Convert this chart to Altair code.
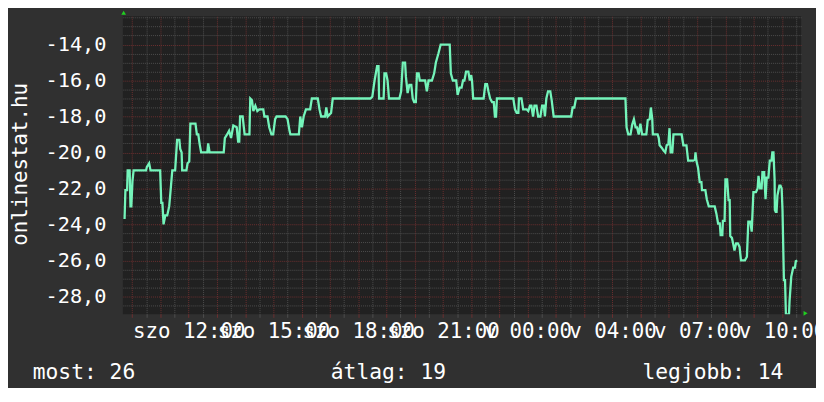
import json
import pandas as pd
import altair as alt

# ---- data (real hours since Saturday 00:00, temperature-like values) ----
hours = [9.73, 9.76, 9.82, 9.84, 9.91, 9.94, 9.97, 10.01, 10.05, 10.49, 10.52, 10.60, 10.65, 10.99,
         11.03, 11.07, 11.11, 11.17, 11.24, 11.31, 11.36, 11.42, 11.52, 11.59, 11.67, 11.70, 11.75,
         11.77, 11.92, 11.96, 12.02, 12.06, 12.24, 12.29, 12.34, 12.39, 12.44, 12.66, 12.69, 12.74,
         13.24, 13.28, 13.36, 13.43, 13.50, 13.58, 13.70, 13.75, 13.79, 13.82, 13.91, 13.98, 14.15,
         14.18, 14.24, 14.29, 14.36, 14.43, 14.50, 14.64, 14.68, 14.79, 14.85, 14.93, 14.99, 15.06,
         15.11, 15.43, 15.50, 15.57, 15.60, 15.90, 15.95, 16.01, 16.07, 16.15, 16.30, 16.36, 16.57,
         16.63, 16.69, 16.83, 16.87, 16.92, 17.04, 17.10, 18.43, 18.50, 18.58, 18.67, 18.72, 18.74,
         18.90, 18.93, 18.99, 19.04, 19.09, 19.46, 19.52, 19.58, 19.66, 19.69, 19.75, 19.81, 19.88,
         19.93, 19.98, 20.04, 20.08, 20.14, 20.18, 20.37, 20.43, 20.49, 20.61, 20.69, 20.75, 20.84,
         20.92, 21.24, 21.28, 21.35, 21.47, 21.52, 21.59, 21.66, 21.71, 21.76, 21.82, 21.90, 21.95,
         22.00, 22.03, 22.07, 22.44, 22.50, 22.56, 22.61, 22.67, 22.74, 22.80, 22.84, 22.88, 22.91,
         23.49, 23.55, 23.61, 23.67, 23.69, 23.78, 23.84, 23.96, 24.02, 24.08, 24.13, 24.19, 24.24,
         24.31, 24.37, 24.45, 24.51, 24.57, 24.61, 24.66, 24.72, 24.80, 24.85, 24.92, 25.54, 25.59,
         25.65, 25.71, 27.46, 27.50, 27.56, 27.64, 27.70, 27.76, 27.82, 27.87, 27.93, 27.99, 28.05,
         28.20, 28.25, 28.32, 28.36, 28.41, 28.43, 28.60, 28.64, 28.67, 28.75, 28.81, 28.87, 28.92,
         28.98, 29.02, 29.06, 29.12, 29.16, 29.45, 29.51, 29.62, 29.68, 29.86, 29.92, 29.94, 29.97,
         30.03, 30.09, 30.15, 30.17, 30.29, 30.34, 30.41, 30.62, 30.68, 30.74, 30.80, 30.83, 30.89,
         30.91, 30.97, 31.00, 31.06, 31.11, 31.15, 31.17, 31.23, 31.27, 31.32, 31.38, 31.44, 31.50,
         31.55, 31.69, 31.76, 31.81, 31.88, 31.93, 31.99, 32.08, 32.14, 32.17, 32.23, 32.28, 32.31,
         32.37, 32.42, 32.46, 32.52, 32.57, 32.63, 32.66, 32.70, 32.74, 32.75, 32.78, 32.81, 32.84,
         32.91, 32.95, 32.99, 33.02, 33.07, 33.11, 33.14, 33.25, 33.27, 33.33, 33.40, 33.46, 33.49,
         33.54]
values = [-23.7, -22.1, -22.1, -21.0, -21.0, -23.0, -23.0, -21.6, -21.0, -21.0, -20.8, -20.6, -21.0, -21.0,
          -22.8, -22.8, -24.0, -23.5, -23.5, -23.0, -22.1, -21.0, -21.0, -19.3, -19.3, -19.8, -20.0,
          -21.0, -21.0, -20.6, -20.5, -18.4, -18.4, -19.0, -19.0, -19.55, -20.0, -20.0, -19.5, -20.0,
          -20.0, -19.2, -19.0, -18.8, -19.2, -18.5, -18.6, -19.4, -19.4, -18.0, -18.0, -19.0, -19.0,
          -17.0, -17.1, -17.7, -17.4, -17.7, -17.6, -17.6, -18.0, -18.0, -18.6, -19.0, -19.0, -18.15,
          -18.0, -18.0, -18.15, -18.8, -19.0, -19.0, -18.0, -18.6, -18.0, -17.6, -17.6, -17.0, -17.0,
          -17.6, -18.0, -18.0, -17.5, -18.0, -17.8, -17.0, -17.0, -16.9, -16.0, -15.2, -15.2, -17.0,
          -17.0, -15.6, -15.6, -16.0, -17.0, -17.0, -16.6, -15.0, -15.0, -15.8, -16.7, -16.25, -16.25,
          -17.0, -17.2, -17.2, -15.6, -15.6, -16.0, -16.0, -16.6, -16.0, -16.0, -15.6, -15.0, -14.5,
          -14.0, -14.0, -15.6, -16.0, -16.0, -16.8, -16.4, -16.4, -16.0, -16.0, -15.5, -15.5, -16.0,
          -15.7, -16.0, -17.0, -17.0, -16.2, -16.2, -16.6, -17.0, -17.2, -17.2, -18.0, -18.0, -17.0,
          -17.0, -17.6, -17.8, -17.8, -17.0, -17.0, -17.6, -17.6, -17.7, -17.4, -17.4, -18.0, -17.4,
          -17.4, -18.0, -18.0, -17.4, -17.4, -18.0, -17.0, -16.6, -16.6, -17.1, -18.0, -18.0, -17.5,
          -17.5, -17.0, -17.0, -18.6, -19.0, -19.0, -18.45, -18.15, -18.6, -18.6, -19.0, -18.4, -19.0,
          -19.0, -18.2, -18.15, -17.5, -18.15, -19.0, -19.0, -19.2, -19.6, -19.75, -19.9, -20.0, -19.6,
          -19.55, -18.65, -20.0, -20.0, -19.0, -19.0, -19.6, -19.6, -20.45, -20.45, -20.4, -20.0, -20.45,
          -20.85, -21.65, -21.65, -22.1, -22.1, -22.6, -23.0, -23.0, -23.4, -23.95, -23.95, -24.6, -24.6,
          -23.8, -23.8, -21.5, -21.5, -22.65, -22.65, -24.65, -24.75, -25.05, -25.45, -25.05, -25.05, -25.25,
          -26.0, -26.0, -25.8, -23.85, -23.85, -24.4, -22.2, -22.2, -22.0, -21.3, -22.0, -22.0, -21.1,
          -21.1, -22.6, -21.4, -21.4, -20.45, -20.45, -20.0, -20.0, -21.5, -23.2, -23.3, -23.3, -22.4,
          -21.85, -21.85, -22.0, -23.2, -27.1, -27.1, -29.0, -29.0, -28.25, -26.9, -26.4, -26.4, -26.05,
          -26.0]

x_domain = [9.67, 33.68]
y_domain = [-29.0, -12.43]

x_tick_hours = [12, 15, 18, 21, 24, 27, 30, 33]
x_tick_labels = ["szo 12:00", "szo 15:00", "szo 18:00", "szo 21:00",
                 "v 00:00", "v 04:00", "v 07:00", "v 10:00"]
x_major = list(range(10, 34))
x_minor = [k / 2 for k in range(21, 68, 2)]
y_major = [-28, -26, -24, -22, -20, -18, -16, -14]
y_minor = [k / 2 for k in range(-57, -24) if k % 4 != 0]

y_title = "onlinestat.hu"
stat_names = ["most", "átlag", "legjobb"]
stat_values = [26, 19, 14]

# ---- styling ----
FONT = "DejaVu Sans Mono"
BG = "#303030"
PLOT = "#212121"
GRAY = "#4e4e4e"
RED = "#6c3030"
LINE = "#74f4ba"
ARROW = "#20d020"
TXT = "#ffffff"

df = pd.DataFrame({"h": hours, "v": values})
xs = alt.Scale(domain=x_domain, nice=False, zero=False)
ys = alt.Scale(domain=y_domain, nice=False, zero=False)

grid_minor = alt.Chart(df).mark_line(opacity=0).encode(
    x=alt.X("h:Q", scale=xs, axis=alt.Axis(
        orient="bottom", values=x_minor, grid=True, gridColor=GRAY, gridDash=[1, 1],
        labels=False, ticks=True, tickColor=GRAY, tickSize=3, domain=False, title=None)),
    y=alt.Y("v:Q", scale=ys, axis=alt.Axis(
        orient="left", values=y_minor, grid=True, gridColor=GRAY, gridDash=[1, 1],
        labels=False, ticks=False, domain=False, title=None)),
)

grid_major = alt.Chart(df).mark_line(opacity=0).encode(
    x=alt.X("h:Q", scale=xs, axis=alt.Axis(
        orient="bottom", values=x_major, grid=True, gridColor=RED, gridDash=[1, 1],
        labels=False, ticks=True, tickColor=RED, tickSize=3, domain=False, title=None)),
    y=alt.Y("v:Q", scale=ys, axis=alt.Axis(
        orient="left", values=y_major, grid=True, gridColor=RED, gridDash=[1, 1],
        ticks=False, domain=False,
        labelExpr="datum.value + ',0'", labelFont=FONT, labelFontSize=20.5,
        labelColor=TXT, labelPadding=17, labelBaseline="middle",
        title=y_title, titleFont=FONT, titleFontSize=21, titleFontWeight="normal",
        titleColor=TXT, titleAngle=270, titleBaseline="alphabetic", titleAlign="center",
        titleX=-97, titleY=149)),
)

label_expr = f"{json.dumps(x_tick_labels)}[indexof({json.dumps(x_tick_hours)}, datum.value)]"
x_labels = alt.Chart(df).mark_line(opacity=0).encode(
    x=alt.X("h:Q", scale=xs, axis=alt.Axis(
        orient="bottom", values=x_tick_hours, grid=False, ticks=False, domain=False,
        labelExpr=label_expr, labelFont=FONT, labelFontSize=21, labelColor=TXT,
        labelBaseline="alphabetic", labelPadding=23, labelOverlap=False,
        labelFlush=False, labelBound=False, title=None)),
    y=alt.Y("v:Q", scale=ys, axis=None),
)

line = alt.Chart(df).mark_line(color=LINE, strokeWidth=2.3, clip=True).encode(
    x=alt.X("h:Q", scale=xs, axis=None),
    y=alt.Y("v:Q", scale=ys, axis=None),
)

arrow_up = alt.Chart(pd.DataFrame({"h": [x_domain[0]], "v": [y_domain[1]]})).mark_point(
    shape="triangle-up", filled=True, color=ARROW, opacity=1, size=22, xOffset=0.8, yOffset=-3.5
).encode(x=alt.X("h:Q", scale=xs, axis=None), y=alt.Y("v:Q", scale=ys, axis=None))

arrow_right = alt.Chart(pd.DataFrame({"h": [x_domain[1]], "v": [y_domain[0]]})).mark_point(
    shape="triangle-right", filled=True, color=ARROW, opacity=1, size=22, xOffset=4.5, yOffset=-1
).encode(x=alt.X("h:Q", scale=xs, axis=None), y=alt.Y("v:Q", scale=ys, axis=None))

stats = pd.DataFrame({"label": [f"{n}: {v}" for n, v in zip(stat_names, stat_values)]})
stat_x = [-91, 210, 667]
stat_align = ["left", "left", "right"]
texts = []
for i in range(3):
    texts.append(
        alt.Chart(stats.iloc[[i]]).mark_text(
            font=FONT, fontSize=21.5, color=TXT, align=stat_align[i], baseline="alphabetic"
        ).encode(text="label:N", x=alt.value(stat_x[i]), y=alt.value(366.5))
    )

chart = alt.layer(grid_minor, grid_major, x_labels, line, arrow_up, arrow_right, *texts).resolve_axis(
    x="independent", y="independent"
).properties(
    width=685, height=301, autosize="none",
    padding={"left": 116, "top": 6.5, "right": 15, "bottom": 72.5},
    background=BG,
).configure_view(fill=PLOT, stroke=None)

chart.save("out.html", embed_options={"renderer": "svg", "actions": False})
